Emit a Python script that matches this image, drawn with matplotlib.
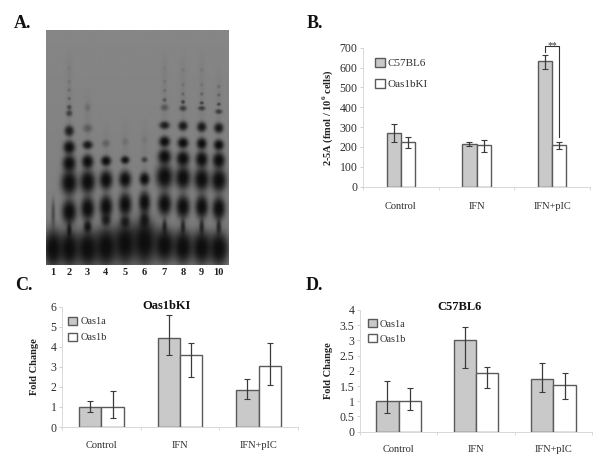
import numpy as np
import matplotlib
matplotlib.use("Agg")
import matplotlib.pyplot as plt
from matplotlib.patches import Patch

plt.rcParams['font.family'] = ['Liberation Serif', 'DejaVu Serif']
plt.rcParams['mathtext.fontset'] = 'custom'
plt.rcParams['mathtext.rm'] = 'Liberation Serif'
plt.rcParams['mathtext.bf'] = 'Liberation Serif:bold'

W, H = 600, 468
categories = ['Control', 'IFN', 'IFN+pIC']

b_c57 = [268, 215, 632]
b_c57_low = [225, 205, 595]
b_c57_high = [315, 225, 665]
b_ki = [224, 208, 208]
b_ki_low = [195, 175, 190]
b_ki_high = [252, 237, 227]

c_1a = [1.0, 4.45, 1.83]
c_1a_low = [0.77, 3.57, 1.42]
c_1a_high = [1.32, 5.6, 2.37]
c_1b = [1.0, 3.58, 3.05]
c_1b_low = [0.43, 2.48, 2.07]
c_1b_high = [1.78, 4.2, 4.2]

d_1a = [1.0, 3.0, 1.73]
d_1a_low = [0.6, 2.1, 1.32]
d_1a_high = [1.65, 3.43, 2.26]
d_1b = [1.0, 1.93, 1.52]
d_1b_low = [0.72, 1.43, 1.08]
d_1b_high = [1.42, 2.12, 1.93]

# gel: lane centre and (migration y, half width, half height, intensity)
lane_labels = ['1', '2', '3', '4', '5', '6', '7', '8', '9', '10']
lane_x = [160, 208, 263, 318, 375, 433, 493, 548, 604, 655]
lane_spots = [
    [(745, 26, 50, 1), (640, 5, 35, .4)],
    [(745, 27, 48, 1), (690, 6, 20, .8), (635, 19, 32, 1), (548, 21, 32, 1), (490, 17, 22, 1), (442, 15, 17, 1),
     (393, 12, 14, .85), (340, 8, 8, .55), (322, 6, 6, .5), (296, 4, 4, .3), (270, 4, 4, .2), (245, 4, 4, .12), (205, 4, 4, .08)],
    [(745, 30, 48, 1), (680, 10, 16, .9), (625, 18, 31, 1), (545, 20, 30, 1), (485, 15, 18, 1), (435, 13, 11, .9),
     (385, 12, 10, .3), (322, 8, 10, .15)],
    [(740, 30, 52, 1), (660, 12, 15, .8), (620, 17, 30, 1), (540, 17, 25, 1), (483, 13, 13, 1), (430, 10, 9, .25)],
    [(730, 30, 55, 1), (665, 12, 15, .8), (613, 17, 30, 1), (538, 16, 22, 1), (480, 11, 10, .95), (425, 9, 9, .12)],
    [(725, 32, 60, 1), (660, 12, 20, .85), (607, 15, 28, 1), (537, 13, 17, 1), (479, 8, 7, .55), (420, 8, 8, .06)],
    [(735, 28, 45, 1), (680, 6, 20, .7), (612, 18, 30, 1), (530, 22, 32, 1), (470, 17, 20, 1), (425, 14, 14, 1),
     (376, 13, 10, .85), (323, 10, 8, .35), (300, 5, 5, .4), (272, 4, 4, .2), (245, 4, 4, .12), (205, 4, 4, .08)],
    [(740, 26, 45, 1), (680, 6, 20, .7), (620, 18, 30, 1), (533, 20, 30, 1), (476, 17, 20, 1), (429, 14, 14, 1),
     (378, 12, 12, .9), (325, 9, 7, .6), (306, 5, 5, .6), (282, 4, 4, .3), (255, 4, 4, .15), (210, 4, 4, .08)],
    [(742, 27, 45, 1), (680, 6, 20, .7), (620, 17, 30, 1), (538, 20, 30, 1), (478, 16, 21, 1), (431, 13, 15, 1),
     (381, 12, 13, .9), (325, 9, 6, .6), (309, 5, 4, .6), (282, 4, 4, .3), (255, 4, 4, .15), (210, 4, 4, .08)],
    [(745, 26, 45, 1), (680, 6, 20, .7), (625, 17, 30, 1), (541, 20, 30, 1), (481, 16, 21, 1), (435, 13, 14, 1),
     (384, 12, 13, .9), (335, 9, 6, .6), (313, 5, 4, .55), (285, 4, 4, .3), (260, 4, 4, .2)],
]

fig = plt.figure(figsize=(W / 100, H / 100), dpi=100, facecolor='white')


def axes_px(x0, y0, x1, y1):
    return fig.add_axes([x0 / W, 1 - y1 / H, (x1 - x0) / W, (y1 - y0) / H])


TXT = '#2e2e2e'


def bars(ax, v1, lo1, hi1, v2, lo2, hi2, w, names, ymax, yticks, yticklabels, ylabel, xpad, lsize=7.5):
    x = np.arange(len(categories))
    for off, v, lo, hi, col in ((-w / 2, v1, lo1, hi1, '#c9c9c9'), (w / 2, v2, lo2, hi2, 'white')):
        v, lo, hi = map(np.array, (v, lo, hi))
        ax.bar(x + off, v, w, color=col, edgecolor='#5a5a5a', linewidth=1.0, zorder=2)
        ax.errorbar(x + off, v, yerr=[v - lo, hi - v], fmt='none', ecolor='#3a3a3a',
                    elinewidth=0.9, capsize=2, capthick=0.8, zorder=3)
    ax.set_xlim(-0.5, 2.5)
    ax.set_ylim(0, ymax)
    ax.set_yticks(yticks)
    ax.set_yticklabels(yticklabels, fontsize=lsize + 1, color=TXT)
    ax.set_xticks(x)
    ax.set_xticklabels(categories, fontsize=lsize, color=TXT)
    ax.set_xticks(np.arange(-0.5, 3), minor=True)
    ax.tick_params(axis='x', which='major', length=0, pad=xpad)
    ax.tick_params(axis='x', which='minor', length=2, color='#d8d8d8', width=0.7)
    ax.tick_params(axis='y', length=2, color='#d0d0d0', width=0.7, pad=2)
    for s in ('top', 'right'):
        ax.spines[s].set_visible(False)
    for s in ('left', 'bottom'):
        ax.spines[s].set_color('#d8d8d8')
        ax.spines[s].set_linewidth(0.7)
    ax.set_ylabel(ylabel, fontsize=7.5, fontweight='bold', color='#222222')
    ax.patch.set_alpha(0)
    handles = [Patch(facecolor='#c9c9c9', edgecolor='#5a5a5a', label=names[0]),
               Patch(facecolor='white', edgecolor='#5a5a5a', label=names[1])]
    return handles


# Panel A: gel
ax_a = axes_px(46, 30, 229, 265)
yy, xx = np.mgrid[91:795:1.0, 139:686:1.0]
clear = np.ones_like(xx)
for lx, spots in zip(lane_x, lane_spots):
    for (y, rx, ry, s) in spots:
        r2 = ((xx - lx) / (rx * 1.18)) ** 2 + ((yy - y) / (ry * 1.18)) ** 2
        clear *= 1 - s * np.exp(-r2 ** 1.4)
    # faint streak along each lane
    top = min(sp[0] for sp in spots)
    clear *= 1 - 0.05 * np.exp(-((xx - lx) / 9) ** 2) * np.clip((yy - top + 80) / 80, 0, 1)
backg = 126 + 8 * (795 - yy) / 704
gel = 14 + (backg - 14) * clear
ax_a.imshow(gel, cmap='gray', vmin=0, vmax=255, extent=(139, 686, 795, 91), aspect='auto', interpolation='bilinear')
ax_a.axis('off')
for lab, lx in zip(lane_labels, lane_x):
    ax_a.text(lx, 818, lab, ha='center', va='center', fontsize=7.5, fontweight='bold', color='#222222', clip_on=False)

# Panel B
ax_b = axes_px(363, 47.7, 590, 186.7)
h = bars(ax_b, b_c57, b_c57_low, b_c57_high, b_ki, b_ki_low, b_ki_high, 0.186,
         ('C57BL6', 'Oas1bKI'), 700, range(0, 701, 100), [str(v) for v in range(0, 701, 100)],
         r'2-5A (fmol / 10$^{\mathbf{6}}$ cells)', 11)
ax_b.yaxis.labelpad = 3
ax_b.legend(handles=h, frameon=False, fontsize=8, loc='upper left', bbox_to_anchor=(0.03, 0.968),
            handlelength=0.85, handleheight=0.85, handletextpad=0.2, labelspacing=1.0,
            borderpad=0, labelcolor=TXT)
xa, xb = 2 - 0.093, 2 + 0.093
ax_b.plot([xa, xa, xb, xb], [680, 710, 710, 250], color='#333333', lw=0.8, clip_on=False, zorder=4)
ax_b.text(2, 712, '**', ha='center', va='center', fontsize=7, color='#333333')

# Panel C
ax_c = axes_px(62, 306.7, 298, 427)
h = bars(ax_c, c_1a, c_1a_low, c_1a_high, c_1b, c_1b_low, c_1b_high, 0.285,
         ('Oas1a', 'Oas1b'), 6, range(0, 7), [str(v) for v in range(0, 7)], 'Fold Change', 10)
ax_c.yaxis.labelpad = 8
ax_c.set_title('Oas1bKI', fontsize=9, fontweight='bold', color='#111111', pad=0, y=0.985, x=0.445)
ax_c.legend(handles=h, frameon=False, fontsize=7.5, loc='upper left', bbox_to_anchor=(0.004, 0.96),
            handlelength=0.85, handleheight=0.85, handletextpad=0.3, labelspacing=0.6,
            borderpad=0, labelcolor=TXT)

# Panel D
d_ticks = [0, 0.5, 1, 1.5, 2, 2.5, 3, 3.5, 4]
ax_d = axes_px(360, 310, 592, 431.7)
h = bars(ax_d, d_1a, d_1a_low, d_1a_high, d_1b, d_1b_low, d_1b_high, 0.29,
         ('Oas1a', 'Oas1b'), 4, d_ticks, [f'{v:g}' for v in d_ticks], 'Fold Change', 9.5)
ax_d.yaxis.labelpad = 5
ax_d.set_title('C57BL6', fontsize=9, fontweight='bold', color='#111111', pad=0, y=1.0, x=0.43)
ax_d.legend(handles=h, frameon=False, fontsize=7.5, loc='upper left', bbox_to_anchor=(0.012, 0.97),
            handlelength=0.85, handleheight=0.85, handletextpad=0.3, labelspacing=0.5,
            borderpad=0, labelcolor=TXT)

# Panel letters
for lab, px, py in (('A.', 14, 23), ('B.', 307, 23), ('C.', 15, 285), ('D.', 306, 285)):
    fig.text(px / W, 1 - py / H, lab, fontsize=13, fontweight='bold', color='#111111', ha='left', va='center')

fig.savefig('out.png', dpi=100, facecolor='white')
